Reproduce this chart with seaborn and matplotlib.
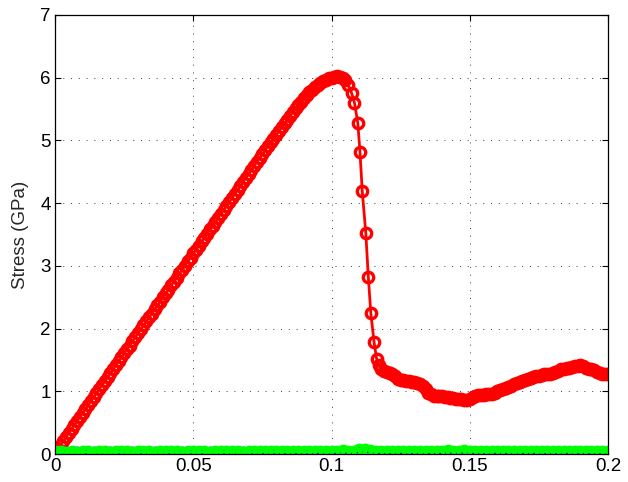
import numpy as np
import pandas as pd
import seaborn as sns
import matplotlib.pyplot as plt

# Red curve: linear rise up to the peak (strain step 0.001)
rise_strain = [i / 1000 for i in range(0, 107)]
rise_stress = [0.02, 0.08, 0.15, 0.21, 0.27, 0.34, 0.40, 0.46, 0.53, 0.59,
               0.66, 0.72, 0.78, 0.85, 0.91, 0.97, 1.04, 1.10, 1.16, 1.23,
               1.29, 1.35, 1.42, 1.48, 1.54, 1.61, 1.67, 1.73, 1.80, 1.86,
               1.93, 1.99, 2.05, 2.12, 2.18, 2.24, 2.31, 2.37, 2.43, 2.50,
               2.56, 2.62, 2.69, 2.75, 2.81, 2.88, 2.94, 3.00, 3.07, 3.13,
               3.20, 3.26, 3.32, 3.39, 3.45, 3.51, 3.58, 3.64, 3.70, 3.77,
               3.83, 3.89, 3.96, 4.02, 4.08, 4.15, 4.21, 4.27, 4.34, 4.40,
               4.47, 4.53, 4.59, 4.66, 4.72, 4.78, 4.85, 4.91, 4.97, 5.03,
               5.09, 5.15, 5.21, 5.27, 5.33, 5.39, 5.45, 5.51, 5.56, 5.62,
               5.67, 5.72, 5.77, 5.81, 5.85, 5.89, 5.92, 5.95, 5.97, 5.99,
               6.00, 6.01, 6.02, 6.01, 6.00, 5.96, 5.88]

# Red curve: sharp drop after failure (sparse points)
drop_strain = [0.1073, 0.1083, 0.1095, 0.1103, 0.1111, 0.1124, 0.1133,
               0.1142, 0.1154, 0.1163, 0.1172]
drop_stress = [5.75, 5.60, 5.28, 4.81, 4.20, 3.52, 2.83, 2.25, 1.78, 1.52, 1.42]

# Red curve: residual part (strain step 0.001 from 0.118)
tail_strain = [i / 1000 for i in range(118, 201)]
tail_stress = [1.36, 1.33, 1.31, 1.29, 1.27, 1.24, 1.20, 1.18, 1.18, 1.17,
               1.16, 1.15, 1.15, 1.14, 1.11, 1.08, 1.03, 0.98, 0.95, 0.93,
               0.93, 0.92, 0.92, 0.91, 0.91, 0.90, 0.89, 0.88, 0.88, 0.87,
               0.86, 0.86, 0.88, 0.91, 0.93, 0.94, 0.94, 0.94, 0.95, 0.95,
               0.96, 0.98, 1.00, 1.02, 1.04, 1.05, 1.07, 1.09, 1.11, 1.13,
               1.15, 1.16, 1.18, 1.19, 1.21, 1.23, 1.24, 1.25, 1.26, 1.27,
               1.28, 1.28, 1.29, 1.31, 1.33, 1.35, 1.36, 1.37, 1.37, 1.38,
               1.40, 1.41, 1.42, 1.40, 1.37, 1.36, 1.35, 1.34, 1.31, 1.29,
               1.27, 1.27, 1.28]

# Blue and green curves stay near zero (strain step 0.002)
low_strain = [i / 500 for i in range(0, 101)]
blue_stress = [0.01, 0.02, 0.01, 0.02, 0.01, 0.02, 0.01, 0.02, 0.01, 0.02,
               0.01, 0.02, 0.02, 0.01, 0.02, 0.01, 0.02, 0.01, 0.02, 0.02,
               0.01, 0.02, 0.01, 0.02, 0.02, 0.01, 0.02, 0.02, 0.01, 0.02,
               0.02, 0.01, 0.02, 0.02, 0.01, 0.02, 0.02, 0.01, 0.02, 0.02,
               0.02, 0.02, 0.01, 0.02, 0.02, 0.02, 0.02, 0.01, 0.02, 0.02,
               0.02, 0.02, 0.03, 0.02, 0.02, 0.03, 0.04, 0.03, 0.02, 0.02,
               0.02, 0.02, 0.02, 0.01, 0.02, 0.02, 0.02, 0.02, 0.01, 0.02,
               0.02, 0.02, 0.02, 0.02, 0.03, 0.02, 0.02, 0.02, 0.02, 0.02,
               0.02, 0.01, 0.02, 0.02, 0.02, 0.02, 0.02, 0.02, 0.02, 0.01,
               0.02, 0.02, 0.02, 0.02, 0.02, 0.02, 0.02, 0.02, 0.02, 0.02,
               0.02]
green_stress = [0.03, 0.03, 0.02, 0.03, 0.02, 0.03, 0.03, 0.02, 0.03, 0.03,
                0.02, 0.03, 0.03, 0.03, 0.02, 0.03, 0.03, 0.03, 0.02, 0.03,
                0.03, 0.03, 0.03, 0.02, 0.03, 0.03, 0.03, 0.03, 0.02, 0.03,
                0.03, 0.03, 0.03, 0.03, 0.02, 0.03, 0.03, 0.03, 0.04, 0.03,
                0.03, 0.04, 0.03, 0.03, 0.04, 0.03, 0.03, 0.04, 0.04, 0.03,
                0.04, 0.04, 0.05, 0.04, 0.04, 0.06, 0.07, 0.05, 0.04, 0.04,
                0.04, 0.03, 0.04, 0.04, 0.03, 0.04, 0.04, 0.03, 0.04, 0.04,
                0.04, 0.05, 0.04, 0.04, 0.05, 0.04, 0.04, 0.04, 0.03, 0.04,
                0.04, 0.04, 0.04, 0.03, 0.04, 0.04, 0.04, 0.04, 0.03, 0.04,
                0.04, 0.03, 0.04, 0.04, 0.03, 0.04, 0.04, 0.03, 0.04, 0.03,
                0.03]

x_ticks = [0, 0.05, 0.1, 0.15, 0.2]
x_tick_labels = ["0", "0.05", "0.1", "0.15", "0.2"]
y_ticks = [0, 1, 2, 3, 4, 5, 6, 7]
y_tick_labels = ["0", "1", "2", "3", "4", "5", "6", "7"]

red = pd.DataFrame({"strain": rise_strain + drop_strain + tail_strain,
                    "stress": rise_stress + drop_stress + tail_stress})
low = pd.DataFrame({"strain": low_strain, "blue": blue_stress, "green": green_stress})

sns.set_style("white")
plt.rcParams["font.family"] = ["Liberation Sans", "DejaVu Sans"]

fig = plt.figure(figsize=(6.28, 4.82), dpi=100)
ax = fig.add_axes([0.0876, 0.058, 0.8806, 0.911])

marker_kw = dict(marker="o", markersize=7.5, markerfacecolor="none", markeredgewidth=2.4)

sns.lineplot(data=red, x="strain", y="stress", color="#ff0000", linewidth=2,
             markeredgecolor="#ff0000", ax=ax, **marker_kw)
sns.lineplot(data=low, x="strain", y="blue", color="#0000ff", linewidth=2,
             markeredgecolor="#0000ff", ax=ax, **marker_kw)
sns.lineplot(data=low, x="strain", y="green", color="#00ff00", linewidth=2,
             markeredgecolor="#00ff00", ax=ax, **marker_kw)

ax.set_xlim(0, 0.2)
ax.set_ylim(0, 7)
ax.set_xticks(x_ticks)
ax.set_xticklabels(x_tick_labels)
ax.set_yticks(y_ticks)
ax.set_yticklabels(y_tick_labels)
ax.set_xlabel("")
ax.set_ylabel("Stress (GPa)", fontsize=13.5, labelpad=8)

ax.grid(True, color="0.25", linestyle=(0, (1, 7)), linewidth=0.7)
ax.tick_params(direction="in", length=4, width=0.8, labelsize=13.5, pad=3,
               top=True, right=True, bottom=True, left=True, colors="black")
for s in ax.spines.values():
    s.set_visible(True)
    s.set_color("black")
    s.set_linewidth(0.9)

fig.savefig("out.png", dpi=100)
